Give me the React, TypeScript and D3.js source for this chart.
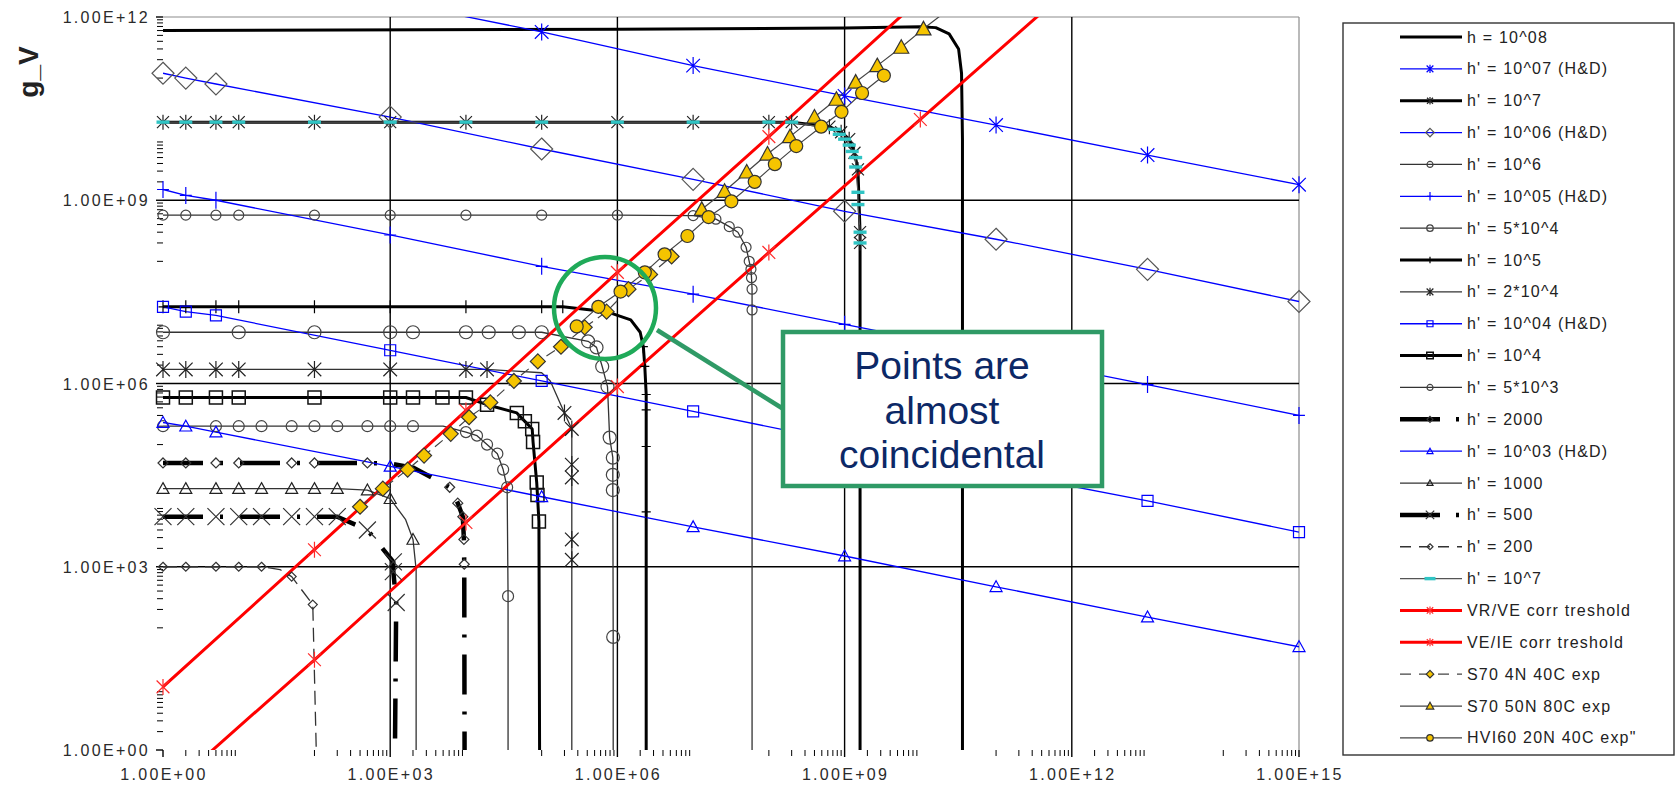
import React from 'react';
import * as d3 from 'd3';

type Pt = [number, number] | [number, number, number];

// x positions shared by the straight H&D lines
const hdX = [1, 2, 5, 1e3, 1e5, 1e7, 1e9, 1e11, 1e13, 1e15];
const hd7 = [1e13, 8.4e12, 6.7e12, 1.8e12, 5.7e11, 1.6e11, 5.1e10, 1.7e10, 5.5e9, 1.8e9];
const hd6 = [1.2e11, 1.0e11, 8.0e10, 2.3e10, 6.9e9, 2.2e9, 6.6e8, 2.3e8, 7.4e7, 2.2e7];
const hd5 = [1.5e9, 1.2e9, 1.0e9, 2.7e8, 8.3e7, 2.9e7, 9.3e6, 3.0e6, 9.6e5, 3.0e5];
const hd4 = [1.8e7, 1.5e7, 1.3e7, 3.5e6, 1.1e6, 3.5e5, 1.1e5, 3.6e4, 1.2e4, 3.7e3];
const hd3 = [2.3e5, 2.0e5, 1.6e5, 4.4e4, 1.4e4, 4.5e3, 1.5e3, 4.7e2, 1.5e2, 49];

// model curves: [x, g_V, 0 = no marker]
const h8: Pt[] = [[1, 6.0e11], [1e6, 6.3e11], [1e9, 6.6e11], [1e10, 6.9e11], [1.6e10, 6.7e11], [2.4e10, 5.3e11], [3.2e10, 3.0e11], [3.5e10, 1.2e11], [3.6e10, 1e10], [3.6e10, 0.5]];
const h7: Pt[] = [[1, 1.9e10], [2, 1.9e10], [5, 1.9e10], [10, 1.9e10], [100, 1.9e10], [1e3, 1.9e10], [1e4, 1.9e10], [1e5, 1.9e10], [1e6, 1.9e10], [1e7, 1.9e10], [1e8, 1.9e10], [2e8, 1.9e10], [6.3e8, 1.6e10], [9e8, 1.3e10], [1.15e9, 1e10], [1.35e9, 6e9], [1.5e9, 3.2e9], [1.6e9, 3e8], [1.6e9, 2e8], [1.6e9, 0.5, 0]];
const h6: Pt[] = [[1, 5.7e8], [2, 5.7e8], [5, 5.7e8], [10, 5.7e8], [100, 5.7e8], [1e3, 5.7e8], [1e4, 5.7e8], [1e5, 5.7e8], [1e6, 5.7e8], [1e7, 5.6e8], [2e7, 4.9e8], [3e7, 3.7e8], [3.9e7, 3e8], [5e7, 1.7e8], [5.5e7, 1e8], [5.8e7, 7.4e7], [5.9e7, 5.4e7], [6e7, 3.5e7], [6e7, 1.6e7], [6e7, 0.5, 0]];
const p5e4: Pt[] = [[1, 6.9e6], [10, 6.9e6], [100, 6.9e6], [1e3, 6.9e6], [2e3, 6.9e6], [1e4, 6.9e6], [2e4, 6.9e6], [5e4, 6.9e6], [1e5, 6.9e6], [4.1e5, 4.9e6], [5.3e5, 3.9e6], [6.3e5, 1.9e6], [7.4e5, 8.9e5], [7.9e5, 1.3e5], [8.7e5, 6.1e4], [8.7e5, 3.2e4], [8.7e5, 1.8e4], [8.8e5, 71], [8.8e5, 0.5, 0]];
const p1e5: Pt[] = [[1, 1.8e7], [2, 1.8e7], [5, 1.8e7], [10, 1.8e7], [100, 1.8e7], [1e3, 1.8e7], [1e4, 1.8e7], [1e5, 1.8e7], [1.9e5, 1.8e7], [7.2e5, 1.5e7, 0], [1.5e6, 1.1e7, 0], [2e6, 6.9e6, 0], [2.2e6, 4e6], [2.3e6, 1.9e6], [2.4e6, 6.6e5], [2.4e6, 3.7e5], [2.4e6, 9.3e4], [2.4e6, 7.9e3], [2.4e6, 0.5, 0]];
const p2e4: Pt[] = [[1, 1.7e6], [2, 1.7e6], [5, 1.7e6], [10, 1.7e6], [100, 1.7e6], [1e3, 1.7e6], [1e4, 1.7e6], [1.9e4, 1.7e6], [1e5, 1.5e6, 0], [1.3e5, 1.1e6, 0], [2e5, 3.3e5], [2.5e5, 1.8e5], [2.5e5, 4.7e4], [2.5e5, 2.9e4], [2.5e5, 2.8e3], [2.5e5, 1.3e3], [2.5e5, 0.5, 0]];
const p1e4: Pt[] = [[1, 5.9e5], [2, 5.9e5], [5, 5.9e5], [10, 5.9e5], [100, 5.9e5], [1e3, 5.9e5], [2e3, 5.9e5], [4.9e3, 5.9e5], [1e4, 5.9e5], [1.9e4, 4.5e5], [4.7e4, 3.3e5], [6e4, 2.4e5], [7.5e4, 1.8e5], [7.7e4, 1.1e5], [8.6e4, 2.4e4], [8.8e4, 1.5e4], [9.2e4, 5.5e3], [9.4e4, 0.5, 0]];
const p5e3: Pt[] = [[1, 2e5], [5, 2e5], [10, 2e5], [20, 2e5], [50, 2e5], [100, 2e5], [200, 2e5], [500, 2e5], [1e3, 2e5], [2e3, 2e5], [5e3, 2e5, 0], [1e4, 1.6e5], [1.4e4, 1.4e5], [1.9e4, 1e5], [2.6e4, 7.1e4], [3.1e4, 3.9e4], [3.5e4, 2e4], [3.6e4, 3.3e2], [3.6e4, 0.5, 0]];
const p2000: Pt[] = [[1, 5e4], [2, 5e4], [5, 5e4], [10, 5e4], [50, 5e4], [100, 5e4], [500, 5e4], [1e3, 4.9e4, 0], [2e3, 4.2e4, 0], [6.1e3, 2e4], [7.8e3, 1.1e4], [9.1e3, 6.6e3], [9.4e3, 2.8e3], [9.5e3, 1.1e3], [9.6e3, 0.5, 0]];
const p1000: Pt[] = [[1, 1.9e4], [2, 1.9e4], [5, 1.9e4], [10, 1.9e4], [20, 1.9e4], [50, 1.9e4], [100, 1.9e4], [200, 1.9e4], [500, 1.8e4], [1e3, 1.3e4], [1.6e3, 5.9e3, 0], [2e3, 2.8e3], [2.2e3, 9e2, 0], [2.2e3, 0.5, 0]];
const p500: Pt[] = [[1, 6.6e3], [2, 6.6e3], [5, 6.6e3], [10, 6.6e3], [20, 6.6e3], [50, 6.6e3], [100, 6.6e3], [200, 6.6e3], [500, 4e3], [1.1e3, 1.2e3], [1.1e3, 8.3e2], [1.2e3, 2.6e2], [1.15e3, 0.5, 0]];
const p200: Pt[] = [[1, 1e3], [2, 1e3], [5, 1e3], [10, 1e3], [20, 1e3], [35, 9e2, 0], [50, 6.9e2], [95, 2.4e2], [107, 0.5, 0]];
const teal7: Pt[] = [[1, 1.9e10], [2, 1.9e10], [5, 1.9e10], [10, 1.9e10], [100, 1.9e10], [1e3, 1.9e10], [1e4, 1.9e10], [1e5, 1.9e10], [1e6, 1.9e10], [1e7, 1.9e10], [1e8, 1.9e10], [2e8, 1.9e10], [7.4e8, 1.45e10], [8.5e8, 1.2e10], [1e9, 1e10], [1.15e9, 8e9], [1.26e9, 6.3e9], [1.4e9, 5e9], [1.4e9, 3.5e9], [1.5e9, 1.35e9], [1.5e9, 8.5e8], [1.6e9, 3e8], [1.6e9, 2e8]];

// thresholds
const vrve: Pt[] = [[1, 10.8], [1e2, 1.9e3], [1e4, 3.6e5], [1e6, 6.6e7], [1e8, 1.1e10], [1e10, 2.0e12]];
const veie: Pt[] = [[1, 0.19], [1e2, 30], [1e4, 5.3e3], [1e6, 8.9e5], [1e8, 1.4e8], [1e10, 2.1e10], [1e12, 3.2e12]];

// experiments
const s70n4: Pt[] = [[4.0e2, 9.6e3], [8.0e2, 1.9e4], [1.7e3, 3.9e4], [2.8e3, 6.6e4], [6.3e3, 1.5e5], [1.1e4, 2.8e5], [2.1e4, 4.9e5], [4.3e4, 1.1e6], [8.9e4, 2.3e6], [1.8e5, 4.0e6], [3.7e5, 8.3e6], [7.2e5, 1.5e7], [1.4e6, 3.5e7], [2.7e6, 6.1e7], [5.2e6, 1.2e8]];
const s70n50: Pt[] = [[1.3e7, 7.1e8], [2.6e7, 1.4e9], [5.1e7, 2.9e9], [9.6e7, 5.7e9], [1.9e8, 1.1e10], [4.0e8, 2.3e10], [7.8e8, 4.5e10], [1.4e9, 8.6e10], [2.7e9, 1.6e11], [5.6e9, 3.2e11], [1.1e10, 6.4e11], [2.3e10, 1.3e12, 0]];
const hvi60: Pt[] = [[2.9e5, 8.6e6], [5.6e5, 1.8e7], [1.1e6, 3.2e7], [2.3e6, 6.6e7], [4.2e6, 1.3e8], [8.4e6, 2.6e8], [1.6e7, 5.3e8], [3.2e7, 9.6e8], [6.5e7, 2.0e9], [1.2e8, 3.9e9], [2.3e8, 7.7e9], [4.9e8, 1.6e10], [9.1e8, 2.8e10], [1.7e9, 5.7e10], [3.3e9, 1.1e11]];

const xTickVals = [1, 1e3, 1e6, 1e9, 1e12, 1e15];
const xTickLabels = ['1.00E+00', '1.00E+03', '1.00E+06', '1.00E+09', '1.00E+12', '1.00E+15'];
const yTickVals = [1, 1e3, 1e6, 1e9, 1e12];
const yTickLabels = ['1.00E+00', '1.00E+03', '1.00E+06', '1.00E+09', '1.00E+12'];

const W = 1679;
const H = 786;
const plot = { left: 163, right: 1299, top: 17, bottom: 750 };
const x = d3.scaleLog().domain([1, 1e15]).range([plot.left, plot.right]);
const y = d3.scaleLog().domain([1, 1e12]).range([plot.bottom, plot.top]);

const BLUE = '#0000ff';
const GOLD = '#f5c400';
const FONT = "'Liberation Sans', Arial, sans-serif";

const zip = (xs: number[], ys: number[]): Pt[] => xs.map((v, i) => [v, ys[i]]);

interface Series {
  name: string; pts: Pt[]; color: string; width: number; dash?: string; legendDash?: string;
  marker?: string; ms?: number; mc?: string; mw?: number; fill?: string;
}

const series: Series[] = [
  { name: 'h = 10^08', pts: h8, color: '#000', width: 3 },
  { name: "h' = 10^07 (H&D)", pts: zip(hdX, hd7), color: BLUE, width: 1.3, marker: 'star', ms: 8.5, mc: BLUE },
  { name: "h' = 10^7", pts: h7, color: '#000', width: 3, marker: 'star', ms: 7.5, mc: '#222' },
  { name: "h' = 10^06 (H&D)", pts: zip(hdX, hd6), color: BLUE, width: 1.3, marker: 'diamond', ms: 11, mc: '#555' },
  { name: "h' = 10^6", pts: h6, color: '#333', width: 1.3, marker: 'circle', ms: 5, mc: '#444' },
  { name: "h' = 10^05 (H&D)", pts: zip(hdX, hd5), color: BLUE, width: 1.3, marker: 'plus', ms: 8.5, mc: BLUE },
  { name: "h' = 5*10^4", pts: p5e4, color: '#333', width: 1.3, marker: 'circle', ms: 6.5, mc: '#444' },
  { name: "h' = 10^5", pts: p1e5, color: '#000', width: 3, marker: 'plus', ms: 6.5, mc: '#000' },
  { name: "h' = 2*10^4", pts: p2e4, color: '#333', width: 1.3, marker: 'star', ms: 8.5, mc: '#222' },
  { name: "h' = 10^04 (H&D)", pts: zip(hdX, hd4), color: BLUE, width: 1.3, marker: 'square', ms: 5.5, mc: BLUE },
  { name: "h' = 10^4", pts: p1e4, color: '#000', width: 3, marker: 'square', ms: 6.5, mc: '#111', mw: 1.5 },
  { name: "h' = 5*10^3", pts: p5e3, color: '#333', width: 1.3, marker: 'circle', ms: 5.5, mc: '#444' },
  { name: "h' = 2000", pts: p2000, color: '#000', width: 4.5, dash: '40 17 3 17', legendDash: '40 16 3 20', marker: 'diamond', ms: 5, mc: '#333' },
  { name: "h' = 10^03 (H&D)", pts: zip(hdX, hd3), color: BLUE, width: 1.3, marker: 'triangle', ms: 6, mc: BLUE },
  { name: "h' = 1000", pts: p1000, color: '#333', width: 1.3, marker: 'triangle', ms: 6, mc: '#222' },
  { name: "h' = 500", pts: p500, color: '#000', width: 4.5, dash: '40 17 3 17', legendDash: '40 16 3 20', marker: 'x', ms: 8.5, mc: '#333' },
  { name: "h' = 200", pts: p200, color: '#333', width: 1.3, dash: '14 7', legendDash: '11 8', marker: 'diamond', ms: 4.5, mc: '#333' },
  { name: "h' = 10^7", pts: teal7, color: '#555', width: 1.2, marker: 'dash', ms: 6.5, mc: '#30c4c4' },
  { name: 'VR/VE corr treshold', pts: vrve, color: '#ff0000', width: 3, marker: 'star', ms: 8, mc: '#ff2a2a' },
  { name: 'VE/IE corr treshold', pts: veie, color: '#ff0000', width: 3, marker: 'star', ms: 8, mc: '#ff2a2a' },
  { name: 'S70 4N 40C exp', pts: s70n4, color: '#444', width: 1.2, dash: '10 6', legendDash: '11 8', marker: 'diamond', ms: 7.5, mc: '#333', fill: GOLD },
  { name: 'S70 50N 80C exp', pts: s70n50, color: '#444', width: 1.2, marker: 'triangle', ms: 7.5, mc: '#333', fill: GOLD },
  { name: 'HVI60 20N 40C exp"', pts: hvi60, color: '#444', width: 1.2, marker: 'circle', ms: 6.5, mc: '#333', fill: GOLD },
];

function symbolPath(type: string, s: number): string {
  switch (type) {
    case 'circle': return `M${-s},0A${s},${s} 0 1,0 ${s},0A${s},${s} 0 1,0 ${-s},0Z`;
    case 'diamond': return `M0,${-s}L${s},0L0,${s}L${-s},0Z`;
    case 'square': return `M${-s},${-s}H${s}V${s}H${-s}Z`;
    case 'triangle': return `M0,${-s}L${s},${s * 0.8}L${-s},${s * 0.8}Z`;
    case 'x': return `M${-s},${-s}L${s},${s}M${-s},${s}L${s},${-s}`;
    case 'star': {
      const a = s * 0.8;
      return `M${-a},${-a}L${a},${a}M${-a},${a}L${a},${-a}M0,${-s}L0,${s}`;
    }
    case 'plus': return `M0,${-s}L0,${s}M${-s * 0.7},0L${s * 0.7},0`;
    case 'dash': return `M${-s},-1.7H${s}V1.7H${-s}Z`;
  }
  return '';
}

function Marker({ s, cx, cy, size }: { s: Series; cx: number; cy: number; size: number }) {
  if (!s.marker) return null;
  const isDash = s.marker === 'dash';
  return (
    <path
      d={symbolPath(s.marker, size)}
      transform={`translate(${cx},${cy})`}
      fill={isDash ? s.mc : s.fill || 'none'}
      stroke={isDash ? 'none' : s.mc}
      strokeWidth={s.mw || 1.2}
    />
  );
}

// Excel-style minor ticks for a base-1000 log axis
function minorTicks(maxExp: number): number[] {
  const out: number[] = [];
  for (let n = 0; n < maxExp; n += 3) {
    for (let k = 2; k <= 9; k++) out.push(k * 10 ** n);
    for (let k = 1; k <= 9; k++) out.push(k * 10 ** (n + 2));
  }
  return out;
}

const inside = (p: Pt) => p[0] >= 1 && p[0] <= 1e15 && p[1] >= 1 && p[1] <= 1e12;

export default function App() {
  const line = d3.line<Pt>().x(d => x(d[0])).y(d => y(d[1]));
  const legend = { x: 1343, y: 23, w: 331, h: 732, first: 37, step: 31.86 };

  return (
    <svg width={W} height={H} style={{ position: 'absolute', left: 0, top: 0, display: 'block' }} fontFamily={FONT}>
      <defs>
        <clipPath id="plotClip">
          <rect x={plot.left} y={plot.top} width={plot.right - plot.left} height={plot.bottom - plot.top} />
        </clipPath>
      </defs>
      <rect width={W} height={H} fill="#fff" />

      {/* frame and grid */}
      <line x1={plot.left} x2={plot.right} y1={plot.top} y2={plot.top} stroke="#8c8c8c" strokeWidth={1.2} />
      <line x1={plot.right} x2={plot.right} y1={plot.top} y2={plot.bottom} stroke="#8c8c8c" strokeWidth={1.2} />
      {[1e3, 1e6, 1e9, 1e12].map(v => (
        <line key={'gx' + v} x1={x(v)} x2={x(v)} y1={plot.top} y2={plot.bottom} stroke="#000" strokeWidth={1.4} />
      ))}
      {[1e3, 1e6, 1e9].map(v => (
        <line key={'gy' + v} x1={plot.left} x2={plot.right} y1={y(v)} y2={y(v)} stroke="#000" strokeWidth={1.4} />
      ))}

      {/* ticks */}
      {minorTicks(15).map((v, i) => (
        <line key={'mx' + i} x1={x(v)} x2={x(v)} y1={plot.bottom} y2={plot.bottom + 6} stroke="#000" strokeWidth={1} />
      ))}
      {minorTicks(12).map((v, i) => (
        <line key={'my' + i} x1={plot.left - 6} x2={plot.left} y1={y(v)} y2={y(v)} stroke="#000" strokeWidth={1} />
      ))}
      {xTickVals.map(v => (
        <line key={'tx' + v} x1={x(v)} x2={x(v)} y1={plot.bottom} y2={plot.bottom + 7} stroke="#000" strokeWidth={1.4} />
      ))}
      {yTickVals.map(v => (
        <line key={'ty' + v} x1={plot.left - 7} x2={plot.left} y1={y(v)} y2={y(v)} stroke="#000" strokeWidth={1.4} />
      ))}
      {xTickVals.map((v, i) => (
        <text key={'lx' + v} x={x(v) + 1} y={plot.bottom + 30} textAnchor="middle" fontSize={16} letterSpacing={2.3} fill="#2a2a2a">
          {xTickLabels[i]}
        </text>
      ))}
      {yTickVals.map((v, i) => (
        <text key={'ly' + v} x={plot.left - 13} y={y(v) + 6} textAnchor="end" fontSize={16} letterSpacing={2.3} fill="#2a2a2a">
          {yTickLabels[i]}
        </text>
      ))}
      <text transform="translate(38,72) rotate(-90)" textAnchor="middle" fontSize={28} fontWeight="bold" fill="#222">g_V</text>

      {/* series */}
      <g clipPath="url(#plotClip)">
        {series.map(s => (
          <path key={'l' + s.name + s.pts.length} d={line(s.pts) || ''} fill="none" stroke={s.color}
            strokeWidth={s.width} strokeDasharray={s.dash} strokeLinejoin="round" />
        ))}
      </g>
      {series.map((s, si) => (
        <g key={'m' + si}>
          {s.pts.filter(p => p[2] !== 0 && inside(p)).map((p, i) => (
            <Marker key={i} s={s} cx={x(p[0])} cy={y(p[1])} size={s.ms || 5} />
          ))}
        </g>
      ))}

      {/* legend */}
      <rect x={legend.x} y={legend.y} width={legend.w} height={legend.h} fill="#fff" stroke="#333" strokeWidth={1.4} />
      {series.map((s, i) => {
        const cy = legend.first + i * legend.step;
        return (
          <g key={'lg' + i}>
            <line x1={1400} x2={1462} y1={cy} y2={cy} stroke={s.color} strokeWidth={Math.min(s.width, 4.5)}
              strokeDasharray={s.legendDash} />
            {s.marker && <Marker s={s} cx={1430} cy={cy} size={s.marker === 'dash' ? 5.5 : Math.max(3, Math.min(4.2, (s.ms || 5) * 0.5))} />}
            <text x={1467} y={cy + 5.5} fontSize={16} letterSpacing={1.2} fill="#222">{s.name}</text>
          </g>
        );
      })}

      {/* annotation */}
      <circle cx={605} cy={308} r={51} fill="none" stroke="#1faa59" strokeWidth={4.5} />
      <line x1={657} y1={330} x2={785} y2={410} stroke="#2f9a66" strokeWidth={4.5} />
      <rect x={783} y={332} width={319} height={154} fill="#fff" stroke="#2f9a66" strokeWidth={4.5} />
      {['Points are', 'almost', 'coincidental'].map((t, i) => (
        <text key={t} x={942} y={379 + i * 44.5} textAnchor="middle" fontSize={39} fill="#0c2866">{t}</text>
      ))}
    </svg>
  );
}
